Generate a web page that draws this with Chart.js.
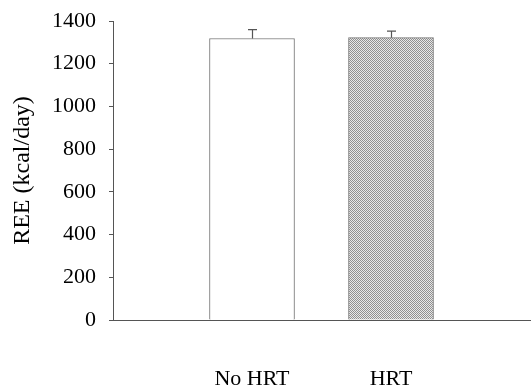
<!DOCTYPE html>
<html>
<head>
<meta charset="utf-8">
<script src="https://cdn.jsdelivr.net/npm/chart.js@4"></script>
<style>
  html, body { margin: 0; padding: 0; background: #fff; }
  #wrap { width: 531px; height: 388px; }
</style>
</head>
<body>
<div id="wrap"><canvas id="chart"></canvas></div>
<script>
// data
const groups = ["", "No HRT", "HRT", ""];
const reeMeans = [null, 1318, 1322, null];
const reeErrors = [null, 42, 31, null];
const yTicks = [0, 200, 400, 600, 800, 1000, 1200, 1400];

// dotted grey fill for the HRT bar
function makeDots() {
  const c = document.createElement("canvas");
  c.width = 2; c.height = 2;
  const g = c.getContext("2d");
  g.fillStyle = "#e8e8e8";
  g.fillRect(0, 0, 2, 2);
  g.fillStyle = "#909090";
  g.fillRect(0, 0, 1, 1);
  g.fillRect(1, 1, 1, 1);
  return g.createPattern(c, "repeat");
}

// simple upward-only error bars
const errorBars = {
  id: "errorBars",
  afterDatasetsDraw(chart) {
    const ctx = chart.ctx;
    const y = chart.scales.y;
    const meta = chart.getDatasetMeta(0);
    ctx.save();
    ctx.strokeStyle = "#555";
    ctx.lineWidth = 1.2;
    meta.data.forEach((bar, i) => {
      if (reeMeans[i] == null) return;
      const top = y.getPixelForValue(reeMeans[i] + reeErrors[i]);
      const x = Math.round(bar.x) + 0.5;
      ctx.beginPath();
      ctx.moveTo(x, bar.y);
      ctx.lineTo(x, top);
      ctx.moveTo(x - 4.5, top);
      ctx.lineTo(x + 4.5, top);
      ctx.stroke();
    });
    ctx.restore();
  }
};

const serif = "'Liberation Serif', 'DejaVu Serif', serif";

new Chart(document.getElementById("chart"), {
  type: "bar",
  data: {
    labels: groups,
    datasets: [{
      data: reeMeans,
      backgroundColor: ["#fff", "#fff", makeDots(), "#fff"],
      borderColor: "#777",
      borderWidth: 1,
      barThickness: 85
    }]
  },
  options: {
    responsive: true,
    maintainAspectRatio: false,
    animation: false,
    layout: { padding: { top: 21, right: 1, left: 0, bottom: 0 } },
    plugins: { legend: { display: false }, tooltip: { enabled: false } },
    scales: {
      x: {
        offset: false,
        grid: { display: false, drawTicks: false },
        border: { color: "#555", width: 1 },
        ticks: {
          color: "#000",
          padding: 46,
          maxRotation: 0,
          autoSkip: false,
          font: { family: serif, size: 22 }
        },
        afterFit: s => {
          s.height = 68;
          s.paddingLeft = 0;
          s.paddingRight = 0;
        }
      },
      y: {
        min: 0,
        max: 1400,
        afterBuildTicks: s => { s.ticks = yTicks.map(v => ({ value: v })); },
        grid: { drawOnChartArea: false, tickLength: 4, color: "#555" },
        border: { color: "#555", width: 1 },
        ticks: {
          color: "#000",
          padding: 13,
          font: { family: serif, size: 22 },
          callback: v => String(v)
        },
        title: {
          display: true,
          text: "REE (kcal/day)",
          color: "#000",
          padding: { top: 8, bottom: 0 },
          font: { family: serif, size: 24 }
        },
        afterFit: s => {
          s.width = 113;
          s.paddingTop = 0;
          s.paddingBottom = 0;
        }
      }
    }
  },
  plugins: [errorBars]
});
</script>
</body>
</html>
